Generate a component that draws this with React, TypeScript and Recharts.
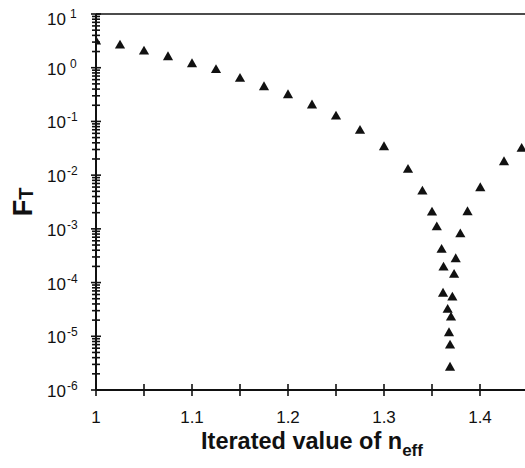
import React from "react";
import {
  ScatterChart,
  Scatter,
  XAxis,
  YAxis,
  ReferenceLine,
  Symbols,
} from "recharts";

// Iterated value of n_eff
const nEff = [
  1.0, 1.025, 1.05, 1.075, 1.1, 1.125, 1.15, 1.175, 1.2, 1.225, 1.25, 1.275,
  1.3, 1.325, 1.34, 1.35, 1.355, 1.36, 1.362, 1.3615, 1.3663, 1.3677, 1.3688,
  1.3688, 1.3698, 1.3712, 1.373, 1.3747, 1.3795, 1.387, 1.4003, 1.425, 1.4434,
];
// F_T values
const fT = [
  3.07, 2.59, 2.0, 1.57, 1.16, 0.9, 0.62, 0.434, 0.308, 0.198, 0.123, 0.0668,
  0.0331, 0.01256, 0.00495, 0.00201, 0.00107, 0.000406, 0.00019, 6.2e-5, 3.1e-5,
  1.14e-5, 6.7e-6, 2.6e-6, 2.23e-5, 5.26e-5, 1.39e-4, 2.72e-4, 7.9e-4, 2.04e-3,
  5.7e-3, 0.0174, 0.0309,
];

const xTicks = [1.0, 1.05, 1.1, 1.15, 1.2, 1.25, 1.3, 1.35, 1.4, 1.45];
const xLabelTicks = [1.0, 1.1, 1.2, 1.3, 1.4];
const decades = [-6, -5, -4, -3, -2, -1, 0, 1];
const minorMults = [2, 3, 4, 5, 6, 7, 8, 9];

const yTicks: number[] = [];
decades.forEach((d) => {
  yTicks.push(Math.pow(10, d));
  if (d < 1) minorMults.forEach((m) => yTicks.push(m * Math.pow(10, d)));
});

const data = nEff.map((x, i) => ({ x, y: fT[i] }));

const FONT = "'Liberation Sans', Arial, sans-serif";
const INK = "#111";

const YTick = (props: any) => {
  const { x, y, payload } = props;
  const v = payload.value as number;
  const lg = Math.log10(v);
  const e = Math.round(lg);
  const major = Math.abs(lg - e) < 1e-6;
  const len = major ? 5 : 4;
  const off = e === 1 && major ? 4 : 0;
  return (
    <g>
      <line x1={x - len} x2={x + len} y1={y} y2={y} stroke={INK} strokeWidth={1.6} />
      {major && (
        <text x={x - 49} y={y + 7 + off} fontSize={17} fontFamily={FONT} fill={INK}>
          10
          <tspan dx={e >= 0 ? 4 : 1} dy={-7} fontSize={12}>
            {e}
          </tspan>
        </text>
      )}
    </g>
  );
};

const XTick = (props: any) => {
  const { x, y, payload } = props;
  const v = payload.value as number;
  const labeled = xLabelTicks.some((t) => Math.abs(t - v) < 1e-9);
  return (
    <g>
      <line x1={x} x2={x} y1={y - 6} y2={y + 6} stroke={INK} strokeWidth={1.6} />
      {labeled && (
        <text x={x} y={y + 33} fontSize={17} fontFamily={FONT} fill={INK} textAnchor="middle">
          {v === 1 ? "1" : v.toFixed(1)}
        </text>
      )}
    </g>
  );
};

const YTitle = (props: any) => {
  const vb = props.viewBox || {};
  const cx = (vb.x || 0) + 24;
  const cy = (vb.y || 0) + (vb.height || 0) / 2;
  return (
    <text
      x={cx}
      y={cy}
      transform={`rotate(-90 ${cx} ${cy})`}
      textAnchor="middle"
      fontFamily={FONT}
      fontWeight="bold"
      fontSize={27}
      fill={INK}
    >
      F
      <tspan fontSize={20} dy={1}>
        T
      </tspan>
    </text>
  );
};

const XTitle = (props: any) => {
  const vb = props.viewBox || {};
  const cx = (vb.x || 0) + (vb.width || 0) / 2;
  const cy = (vb.y || 0) + 59;
  return (
    <text x={cx} y={cy} textAnchor="middle" fontFamily={FONT} fontWeight="bold" fontSize={23.5} fill={INK}>
      Iterated value of n
      <tspan fontSize={17} dy={7}>
        eff
      </tspan>
    </text>
  );
};

const Tri = (p: any) => (
  <Symbols cx={p.cx} cy={p.cy} type="triangle" size={45} fill={INK} stroke="none" />
);

export default function App() {
  return (
    <>
      <style>{`html,body{margin:0;padding:0;overflow:hidden;}`}</style>
      <div
        style={{
          width: 525,
          height: 468,
          overflow: "hidden",
          position: "absolute",
          left: 0,
          top: 0,
        }}
      >
        <div style={{ position: "absolute", left: 8, top: 8 }}>
          <ScatterChart
            width={560}
            height={452}
            margin={{ top: 6, right: 40, bottom: 30, left: 0 }}
          >
            <XAxis
              type="number"
              dataKey="x"
              domain={[1, 1.45]}
              allowDataOverflow
              ticks={xTicks}
              interval={0}
              tick={<XTick />}
              tickLine={false}
              tickSize={0}
              tickMargin={0}
              height={40}
              axisLine={{ stroke: INK, strokeWidth: 2 }}
              label={<XTitle />}
            />
            <YAxis
              type="number"
              dataKey="y"
              scale="log"
              domain={[1e-6, 10]}
              allowDataOverflow
              ticks={yTicks}
              interval={0}
              tick={<YTick />}
              tickLine={false}
              tickSize={0}
              tickMargin={0}
              width={88}
              axisLine={{ stroke: INK, strokeWidth: 2 }}
              label={<YTitle />}
            />
            <ReferenceLine y={10} stroke={INK} strokeWidth={1.5} />
            <Scatter data={data} shape={<Tri />} isAnimationActive={false} />
          </ScatterChart>
        </div>
      </div>
    </>
  );
}
